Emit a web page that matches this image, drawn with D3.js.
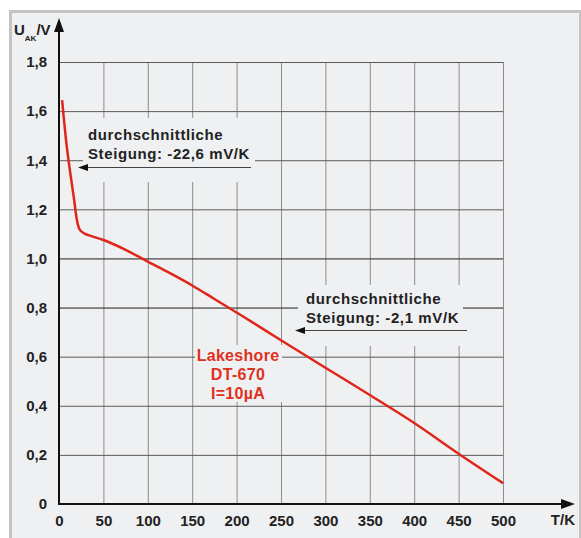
<!DOCTYPE html>
<html>
<head>
<meta charset="utf-8">
<script src="https://cdn.jsdelivr.net/npm/d3@7"></script>
<style>
  html, body { margin: 0; padding: 0; background: #fff; }
  svg { display: block; font-family: "Liberation Sans", Arial, sans-serif; }
</style>
</head>
<body>
<div id="chart"></div>
<script>
// Kennlinie Lakeshore DT-670, I = 10 µA
const temps   = [3.5, 8, 13, 17, 20, 23, 27, 35, 50, 75, 100, 125, 150, 175, 200, 250, 300, 350, 400, 450, 500];
const volts   = [1.645, 1.48, 1.34, 1.24, 1.16, 1.12, 1.105, 1.093, 1.075, 1.035, 0.987, 0.94, 0.89, 0.835, 0.78, 0.667, 0.555, 0.444, 0.33, 0.205, 0.085];
const xTicks  = [0, 50, 100, 150, 200, 250, 300, 350, 400, 450, 500];
const yTicks  = [0, 0.2, 0.4, 0.6, 0.8, 1.0, 1.2, 1.4, 1.6, 1.8];
const note1   = ["durchschnittliche", "Steigung: -22,6 mV/K"];
const note2   = ["durchschnittliche", "Steigung: -2,1 mV/K"];
const sensor  = ["Lakeshore", "DT-670", "I=10µA"];

const width = 581, height = 538;
const bg = "#eff0f2";

const svg = d3.select("#chart").append("svg")
    .attr("width", width)
    .attr("height", height);

// frame
svg.append("rect")
    .attr("x", 10.5).attr("y", 11.5)
    .attr("width", 570).attr("height", 540)
    .attr("fill", bg)
    .attr("stroke", "#c4c4c4")
    .attr("stroke-width", 3);

const x = d3.scaleLinear().domain([0, 500]).range([59, 503]);
const y = d3.scaleLinear().domain([0, 1.8]).range([504, 62]);

const fmt = d => d === 0 ? "0" : d3.format(".1f")(d).replace(".", ",");

// grid
const grid = svg.append("g");
grid.selectAll("line.v")
    .data(xTicks.filter(d => d > 0))
    .join("line")
    .attr("class", "v")
    .attr("x1", d => x(d) + 0.5).attr("x2", d => x(d) + 0.5)
    .attr("y1", y(0)).attr("y2", y(1.8))
    .attr("stroke", "#8c8c8c")
    .attr("stroke-width", 1);
grid.selectAll("line.h")
    .data(yTicks.filter(d => d > 0))
    .join("line")
    .attr("class", "h")
    .attr("x1", x(0)).attr("x2", x(500))
    .attr("y1", d => y(d) + 0.5).attr("y2", d => y(d) + 0.5)
    .attr("stroke", d => (d === 1.0 || d === 0.8) ? "#1e1e1e" : "#5a5a5a")
    .attr("stroke-width", 1);

// label backgrounds (cover the grid)
const boxes = svg.append("g");
boxes.append("rect").attr("x", 83).attr("y", 118).attr("width", 172).attr("height", 64).attr("fill", bg);
boxes.append("rect").attr("x", 298).attr("y", 285).attr("width", 165).attr("height", 61).attr("fill", bg);
boxes.append("rect").attr("x", 195).attr("y", 345).attr("width", 87).attr("height", 57).attr("fill", bg);

// axes labels via d3 axes
const yAxis = svg.append("g")
    .attr("transform", `translate(${x(0)},0)`)
    .call(d3.axisLeft(y).tickValues(yTicks).tickFormat(fmt).tickSize(0).tickPadding(12));
const xAxis = svg.append("g")
    .attr("transform", `translate(0,${y(0)})`)
    .call(d3.axisBottom(x).tickValues(xTicks).tickFormat(d => d).tickSize(0).tickPadding(11));
[xAxis, yAxis].forEach(g => {
  g.select(".domain").remove();
  g.selectAll("text")
    .attr("fill", "#222")
    .style("font-size", "15px")
    .style("font-weight", "bold");
});

// axis lines with arrows
svg.append("line")
    .attr("x1", x(0)).attr("x2", x(0))
    .attr("y1", y(0) + 1).attr("y2", 28)
    .attr("stroke", "#111").attr("stroke-width", 2);
svg.append("path")
    .attr("d", `M${x(0)},18 L${x(0) - 5},32 L${x(0) + 5},32 Z`)
    .attr("fill", "#111");
svg.append("line")
    .attr("x1", x(0) - 1).attr("x2", 566)
    .attr("y1", y(0)).attr("y2", y(0))
    .attr("stroke", "#111").attr("stroke-width", 2);
svg.append("path")
    .attr("d", `M575,${y(0)} L561,${y(0) - 5} L561,${y(0) + 5} Z`)
    .attr("fill", "#111");

// axis titles
const yt = svg.append("text")
    .attr("x", 14).attr("y", 35)
    .attr("fill", "#222")
    .style("font-size", "15px").style("font-weight", "bold");
yt.append("tspan").text("U");
yt.append("tspan").attr("dy", 6).style("font-size", "8px").text("AK");
yt.append("tspan").attr("dy", -6).text("/V");

svg.append("text")
    .attr("x", 575).attr("y", 525)
    .attr("text-anchor", "end")
    .attr("fill", "#222")
    .style("font-size", "15px").style("font-weight", "bold")
    .text("T/K");

// curve
const pts = temps.map((t, i) => [t, volts[i]]);
svg.append("path")
    .datum(pts)
    .attr("d", d3.line().x(d => x(d[0])).y(d => y(d[1])).curve(d3.curveMonotoneX))
    .attr("fill", "none")
    .attr("stroke", "#e0261a")
    .attr("stroke-width", 2.5)
    .attr("stroke-linejoin", "round");

// annotations
function note(lines, tx, ty, ax1, ax2, ay) {
  const t = svg.append("text")
      .attr("fill", "#222")
      .style("font-size", "15px").style("font-weight", "bold")
      .style("letter-spacing", "0.6px");
  lines.forEach((s, i) => t.append("tspan").attr("x", tx).attr("y", ty + i * 19).text(s));
  svg.append("line")
      .attr("x1", ax1 + 8).attr("x2", ax2)
      .attr("y1", ay + 0.5).attr("y2", ay + 0.5)
      .attr("stroke", "#444").attr("stroke-width", 1);
  svg.append("path")
      .attr("d", `M${ax1},${ay + 0.5} L${ax1 + 10},${ay - 3} L${ax1 + 10},${ay + 4} Z`)
      .attr("fill", "#111");
}
note(note1, 88, 140, 78, 251, 167);
note(note2, 306, 304, 295, 467, 330);

const st = svg.append("text")
    .attr("text-anchor", "middle")
    .attr("fill", "#e0301e")
    .style("font-size", "16px").style("font-weight", "bold")
    .style("letter-spacing", "0.3px");
sensor.forEach((s, i) => st.append("tspan").attr("x", 238).attr("y", 361 + i * 19).text(s));
</script>
</body>
</html>
